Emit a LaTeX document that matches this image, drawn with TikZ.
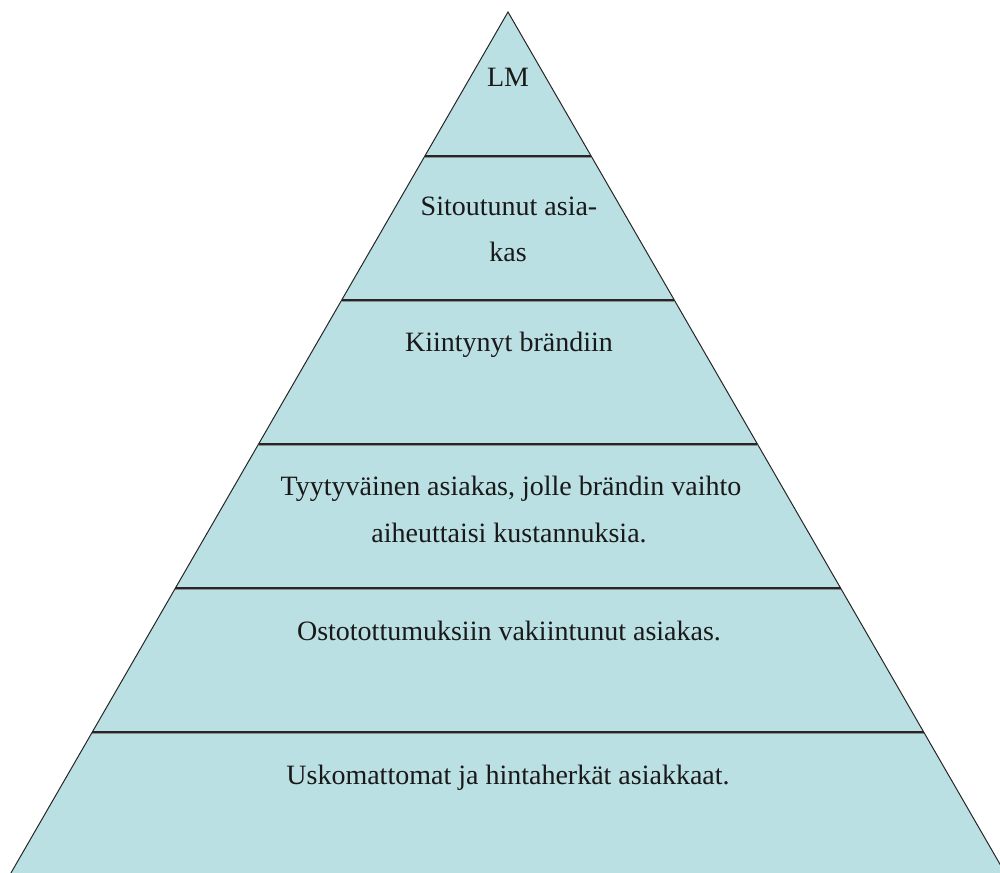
\documentclass[tikz,border=0pt]{standalone}
\usepackage{fontspec}
\setmainfont{Liberation Serif}
\definecolor{pyr}{RGB}{187,224,227}
\begin{document}
\begin{tikzpicture}[x=0.75pt,y=-0.75pt,
  lbl/.style={font=\fontsize{21}{25}\selectfont, anchor=base, inner sep=0pt, text=black!90},
  bandline/.style={line width=1.7pt, draw=black!85},
  bandshade/.style={line width=1pt, draw=black!45},
  edge/.style={line width=0.75pt, draw=black!85}]
\useasboundingbox (0,0) rectangle (1000,873);
\begin{scope}
\clip (0,0) rectangle (1000,873);
\coordinate (A) at (508,12);
\coordinate (L) at (9.2,876);
\coordinate (R) at (1006.8,876);
\fill[pyr] (A) -- (L) -- (R) -- cycle;
\foreach \y in {156,300,444,588,732}{
  \pgfmathsetmacro\hw{(\y-12)*0.57735}
  \draw[bandshade] (508-\hw,\y+1.6) -- (508+\hw,\y+1.6);
  \draw[bandline] (508-\hw,\y) -- (508+\hw,\y);
}
\draw[edge] (L) -- (A) -- (R);
\end{scope}
\node[lbl] (t1) at (508,87) {LM};
\node[lbl] (t2a) at (509,216) {Sitoutunut asia-};
\node[lbl] (t2b) at (508,262) {kas};
\node[lbl] (t3) at (509,352) {Kiintynyt brändiin};
\node[lbl] (t4a) at (511,496) {Tyytyväinen asiakas, jolle brändin vaihto};
\node[lbl] (t4b) at (509,542) {aiheuttaisi kustannuksia.};
\node[lbl] (t5) at (509,640) {Ostotottumuksiin vakiintunut asiakas.};
\node[lbl] (t6) at (508,784) {Uskomattomat ja hintaherkät asiakkaat.};
\end{tikzpicture}
\end{document}
